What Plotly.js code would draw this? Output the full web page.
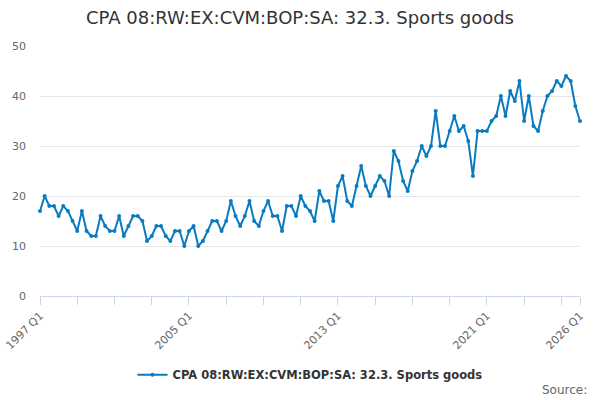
<!DOCTYPE html>
<html>
<head>
<meta charset="utf-8">
<script src="https://cdn.plot.ly/plotly-3.0.1.min.js"></script>
<style>
  html, body { margin: 0; padding: 0; background: #fff; }
  #chart { width: 600px; height: 400px; }
</style>
</head>
<body>
<div id="chart"></div>
<script>
var seriesName = 'CPA 08:RW:EX:CVM:BOP:SA: 32.3. Sports goods';
var firstYear = 1997;

// quarterly values, 1997 Q1 .. 2026 Q1
var values = [
  17, 20, 18, 18, 16, 18, 17, 15, 13, 17,
  13, 12, 12, 16, 14, 13, 13, 16, 12, 14,
  16, 16, 15, 11, 12, 14, 14, 12, 11, 13,
  13, 10, 13, 14, 10, 11, 13, 15, 15, 13,
  15, 19, 16, 14, 16, 19, 15, 14, 17, 19,
  16, 16, 13, 18, 18, 16, 20, 18, 17, 15,
  21, 19, 19, 15, 22, 24, 19, 18, 22, 26,
  22, 20, 22, 24, 23, 20, 29, 27, 23, 21,
  25, 27, 30, 28, 30, 37, 30, 30, 33, 36,
  33, 34, 31, 24, 33, 33, 33, 35, 36, 40,
  36, 41, 39, 43, 35, 40, 34, 33, 37, 40,
  41, 43, 42, 44, 43, 38, 35
];

var quarters = values.map(function (v, i) {
  return (firstYear + Math.floor(i / 4)) + ' Q' + (i % 4 + 1);
});

var labelled = ['1997 Q1', '2005 Q1', '2013 Q1', '2021 Q1', '2026 Q1'];

// tick every two years, plus the last quarter
var tickVals = [];
for (var i = 0; i < quarters.length; i += 8) tickVals.push(quarters[i]);
tickVals.push(quarters[quarters.length - 1]);
var tickText = tickVals.map(function (q) {
  return labelled.indexOf(q) >= 0 ? q : '';
});

var yTicks = [0, 10, 20, 30, 40, 50];

var trace = {
  x: quarters,
  y: values,
  type: 'scatter',
  mode: 'lines+markers',
  name: seriesName,
  line: { color: '#0a7bc1', width: 2 },
  marker: { color: '#0a7bc1', size: 4 },
  cliponaxis: false
};

var layout = {
  width: 600,
  height: 400,
  margin: { l: 40, r: 20, t: 46, b: 103 },
  paper_bgcolor: '#fff',
  plot_bgcolor: '#fff',
  font: { family: 'DejaVu Sans, sans-serif', color: '#666', size: 11 },
  title: {
    text: seriesName,
    font: { size: 18, color: '#333' },
    x: 0.5, xanchor: 'center',
    y: 0.955, yanchor: 'middle'
  },
  xaxis: {
    type: 'category',
    range: [0, quarters.length - 1],
    tickmode: 'array',
    tickvals: tickVals,
    ticktext: tickText,
    tickangle: -45,
    ticks: 'outside',
    ticklen: 8,
    tickcolor: '#ccd6eb',
    showgrid: false,
    showline: true,
    linecolor: '#ccd6eb',
    linewidth: 1,
    zeroline: false,
    tickfont: { size: 11, color: '#666' }
  },
  yaxis: {
    range: [0, 50],
    tickvals: yTicks,
    showgrid: true,
    gridcolor: '#e6e6e6',
    zeroline: false,
    showline: false,
    ticks: '',
    ticklabelstandoff: 13,
    tickfont: { size: 11, color: '#666' }
  },
  showlegend: true,
  legend: {
    orientation: 'h',
    x: 0.5, xanchor: 'center',
    y: -0.252, yanchor: 'top',
    font: { size: 11.5, color: '#333', weight: 'bold' }
  },
  annotations: [{
    text: 'Source:',
    xref: 'paper', yref: 'paper',
    x: 1.017, xanchor: 'right',
    y: -0.34, yanchor: 'top',
    showarrow: false,
    font: { size: 12, color: '#666' }
  }]
};

Plotly.newPlot('chart', [trace], layout, { displayModeBar: false, staticPlot: true });
</script>
</body>
</html>
